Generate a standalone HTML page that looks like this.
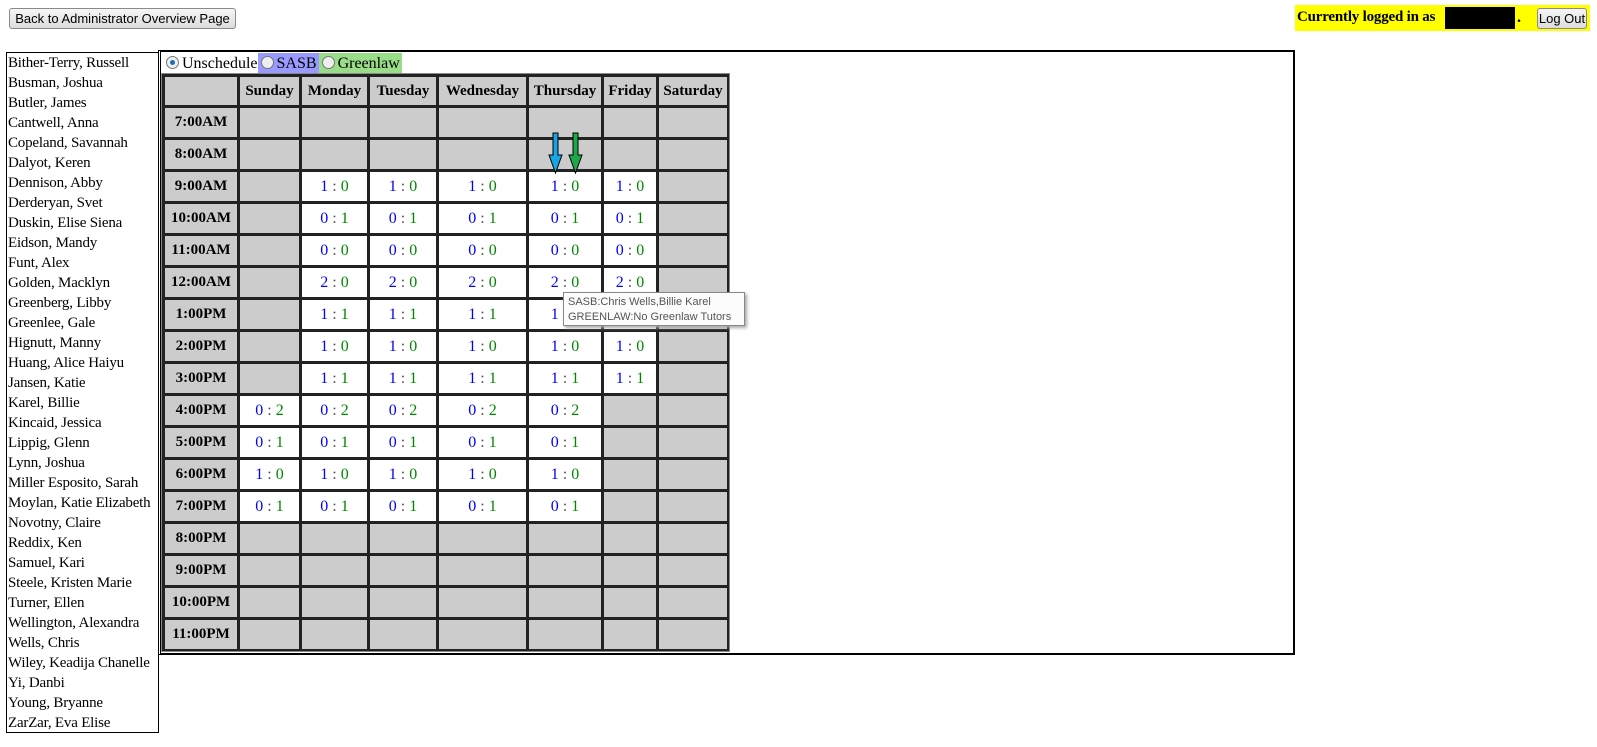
<!DOCTYPE html>
<html><head><meta charset="utf-8"><style>
body{margin:0;width:1597px;height:747px;position:relative;background:#fff;font-family:"Liberation Serif",serif;font-size:16px;overflow:hidden}
.abs{position:absolute}
.btn{position:absolute;background:linear-gradient(#f6f6f6,#dcdcdc);border:1px solid #8a8a8a;border-radius:3px;font-family:"Liberation Sans",sans-serif;font-size:13px;color:#000;display:flex;align-items:center;justify-content:center;box-sizing:border-box}
.cell{position:absolute;background:#ccc;display:flex;align-items:center;justify-content:center;font-weight:bold;box-sizing:border-box;font-size:15px}
.w{background:#fff;font-weight:normal;font-size:16px}
.a{color:#00f}.b{color:#080}.c{color:#555}
.radio{display:inline-block;width:11px;height:11px;border:1px solid #777;border-radius:50%;background:#eee;vertical-align:-1px;margin:0 3px 0 3px;position:relative}
.on::after{content:"";position:absolute;left:3px;top:3px;width:5px;height:5px;border-radius:50%;background:#1d6fb8}
.name{height:20px;line-height:20px;white-space:nowrap;font-size:15px;letter-spacing:-0.2px}
</style></head><body>
<div class="btn" style="left:9px;top:8px;width:227px;height:21px">Back to Administrator Overview Page</div>
<div class="abs" style="left:1295px;top:5px;width:295px;height:26px;background:#ff0;white-space:nowrap">
 <span class="abs" style="left:2px;top:4px;font-weight:bold;color:#000;font-size:15px;letter-spacing:-0.2px">Currently logged in as</span>
 <span class="abs" style="left:150px;top:2px;width:70px;height:22px;background:#000"></span>
 <span class="abs" style="left:222px;top:4px;font-weight:bold">.</span>
 <div class="btn" style="left:242px;top:3px;width:50px;height:21px">Log Out</div>
</div>
<div class="abs" id="list" style="left:6px;top:52px;width:150px;height:679px;border:1px solid #000;padding-left:1px;box-sizing:content-box"></div>
<div class="abs" style="left:158px;top:50px;width:1132px;height:601px;border:2px solid #000;border-left:3px double #000"></div>
<div class="abs" style="left:163px;top:53px;height:22px;line-height:22px;white-space:nowrap">
 <span><span class="radio on"></span>Unschedule</span><span style="background:#99f;padding-right:2px;display:inline-block"><span class="radio"></span>SASB</span><span style="background:#9d8;padding-right:2px;display:inline-block"><span class="radio"></span>Greenlaw</span>
</div>
<div class="abs" id="grid" style="left:161px;top:73px;width:569px;height:579px;background:#222;border:1px solid #888;box-sizing:border-box"></div>
<svg class="abs" style="left:548px;top:132px" width="36" height="44">
 <path d="M5 1h5v22h4l-6.5 18l-6.5-18h4z" fill="#19a3e0" stroke="#000"/>
 <path d="M25 1h5v22h4l-6.5 18l-6.5-18h4z" fill="#1da84a" stroke="#000"/>
</svg>
<div class="abs" style="left:563px;top:292px;width:182px;height:34px;background:#fcfcfc;border:1px solid #888;box-shadow:2px 2px 3px #aaa;font-family:'Liberation Sans',sans-serif;font-size:11px;color:#555;line-height:15px;padding:2px 4px;box-sizing:border-box;white-space:nowrap">SASB:Chris Wells,Billie Karel<br>GREENLAW:No Greenlaw Tutors</div>
<script>
const names=["Bither-Terry, Russell","Busman, Joshua","Butler, James","Cantwell, Anna","Copeland, Savannah","Dalyot, Keren","Dennison, Abby","Derderyan, Svet","Duskin, Elise Siena","Eidson, Mandy","Funt, Alex","Golden, Macklyn","Greenberg, Libby","Greenlee, Gale","Hignutt, Manny","Huang, Alice Haiyu","Jansen, Katie","Karel, Billie","Kincaid, Jessica","Lippig, Glenn","Lynn, Joshua","Miller Esposito, Sarah","Moylan, Katie Elizabeth","Novotny, Claire","Reddix, Ken","Samuel, Kari","Steele, Kristen Marie","Turner, Ellen","Wellington, Alexandra","Wells, Chris","Wiley, Keadija Chanelle","Yi, Danbi","Young, Bryanne","ZarZar, Eva Elise"];
const days=["Sunday","Monday","Tuesday","Wednesday","Thursday","Friday","Saturday"];
const times=["7:00AM","8:00AM","9:00AM","10:00AM","11:00AM","12:00AM","1:00PM","2:00PM","3:00PM","4:00PM","5:00PM","6:00PM","7:00PM","8:00PM","9:00PM","10:00PM","11:00PM"];
const sasb=[null,null,[null,1,1,1,1,1,null],[null,0,0,0,0,0,null],[null,0,0,0,0,0,null],[null,2,2,2,2,2,null],[null,1,1,1,1,1,null],[null,1,1,1,1,1,null],[null,1,1,1,1,1,null],[0,0,0,0,0,null,null],[0,0,0,0,0,null,null],[1,1,1,1,1,null,null],[0,0,0,0,0,null,null],null,null,null,null];
const green=[null,null,[null,0,0,0,0,0,null],[null,1,1,1,1,1,null],[null,0,0,0,0,0,null],[null,0,0,0,0,0,null],[null,1,1,1,1,1,null],[null,0,0,0,0,0,null],[null,1,1,1,1,1,null],[2,2,2,2,2,null,null],[1,1,1,1,1,null,null],[0,0,0,0,0,null,null],[1,1,1,1,1,null,null],null,null,null,null];
const list=document.getElementById('list');
names.forEach(n=>{const d=document.createElement('div');d.className='name';d.textContent=n;


list.appendChild(d);});
const grid=document.getElementById('grid');
const cx=[163,238,300,368,437,527,602,657,728];
const ry=[75,106];for(let i=1;i<=17;i++)ry.push(106+i*32);
function cell(c,r,html,white,name){const d=document.createElement('div');d.className='cell'+(white?' w':'');
const ox=162,oy=74;
d.style.left=(cx[c]-ox+2)+'px';d.style.top=(ry[r]-oy+2)+'px';
d.style.width=(cx[c+1]-cx[c]-3)+'px';d.style.height=(ry[r+1]-ry[r]-3)+'px';
d.innerHTML=html;


grid.appendChild(d);}
cell(0,0,'',false,'corner-cell');
days.forEach((d,i)=>cell(i+1,0,d,false,'day-header'));
times.forEach((t,r)=>{cell(0,r+1,t,false,'time-label');
days.forEach((d,c)=>{const s=sasb[r]&&sasb[r][c];const g=green[r]&&green[r][c];
if(s===null||s===undefined)cell(c+1,r+1,'',false,'empty-slot');
else cell(c+1,r+1,'<span class="a">'+s+'</span>&nbsp;<span class="c">:</span>&nbsp;<span class="b">'+g+'</span>',true,'slot-count');});});
</script>
</body></html>
